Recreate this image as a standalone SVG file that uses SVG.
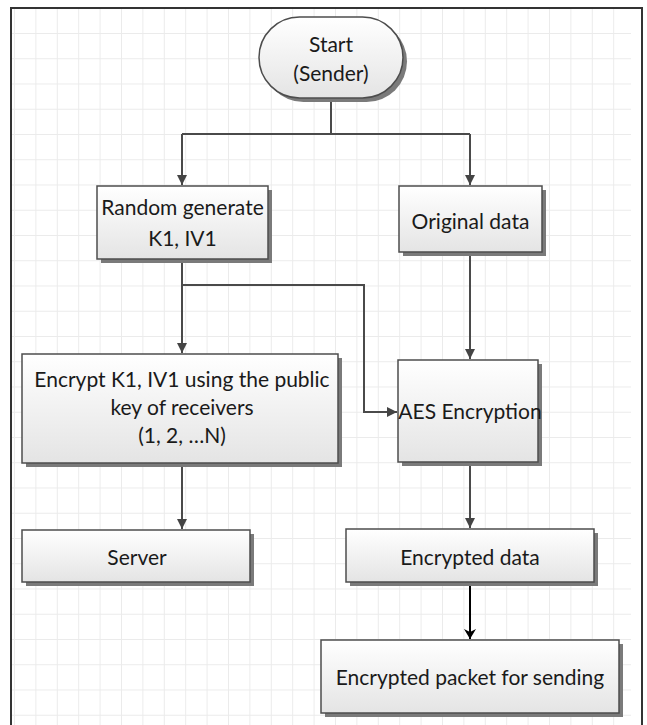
<svg xmlns="http://www.w3.org/2000/svg" width="647" height="725" viewBox="0 0 647 725">
  <defs>
    <linearGradient id="boxFill" x1="0" y1="0" x2="0" y2="1">
      <stop offset="0" stop-color="#ffffff"/>
      <stop offset="1" stop-color="#e4e4e4"/>
    </linearGradient>
    <pattern id="gridCell" x="14" y="7.75" width="21.4" height="25.25" patternUnits="userSpaceOnUse">
      <path d="M0 0V25.25M0 0H21.4" fill="none" stroke="#ebebeb" stroke-width="2"/>
    </pattern>
    <marker id="arrowGray" viewBox="0 0 10 10" refX="10" refY="5" markerWidth="10" markerHeight="10" markerUnits="userSpaceOnUse" orient="auto">
      <path d="M0 0L10 5L0 10Z" fill="#444444"/>
    </marker>
    <marker id="arrowBlack" viewBox="0 0 10 12" refX="10" refY="6" markerWidth="12" markerHeight="12" markerUnits="userSpaceOnUse" orient="auto">
      <path d="M0 0L10 6L0 12L3 6Z" fill="#000000"/>
    </marker>
  </defs>
  <style>
    .box { fill: url(#boxFill); stroke: #4d4d4d; stroke-width: 1.5; }
    .shadow { fill: #7a7a7a; }
    .label { font-family: "Lato", "Liberation Sans", sans-serif; font-size: 21px; fill: #1a1a1a; text-anchor: middle; }
    .wire { fill: none; stroke: #4a4a4a; stroke-width: 2; }
    .wire-dark { fill: none; stroke: #000000; stroke-width: 2; }
  </style>

  <!-- page background and drawing grid -->
  <rect x="0" y="0" width="647" height="725" fill="#ffffff"/>
  <rect x="12" y="9" width="619" height="716" fill="url(#gridCell)"/>
  <path d="M11 725V8H642V725" fill="none" stroke="#333333" stroke-width="2"/>

  <!-- connectors -->
  <g id="connectors">
    <path class="wire" d="M331 98V134"/>
    <path class="wire" d="M182 134H470"/>
    <path class="wire" d="M182 134V185" marker-end="url(#arrowGray)"/>
    <path class="wire" d="M470 134V185" marker-end="url(#arrowGray)"/>
    <path class="wire" d="M182 259V353" marker-end="url(#arrowGray)"/>
    <path class="wire" d="M182 285H364V412H397" marker-end="url(#arrowGray)"/>
    <path class="wire" d="M470 252V359" marker-end="url(#arrowGray)"/>
    <path class="wire" d="M182 463V529" marker-end="url(#arrowGray)"/>
    <path class="wire" d="M470 462V528" marker-end="url(#arrowGray)"/>
    <path class="wire-dark" d="M470 582V639" marker-end="url(#arrowBlack)"/>
  </g>

  <g id="start">
    <rect class="shadow" x="263" y="21" width="144" height="81" rx="40.5"/>
    <rect class="box" x="259" y="17" width="144" height="81" rx="40.5"/>
    <text class="label" x="331" y="52">Start</text>
    <text class="label" x="331" y="81">(Sender)</text>
  </g>

  <g id="random-generate">
    <rect class="shadow" x="101" y="190" width="171" height="73"/>
    <rect class="box" x="97" y="186" width="171" height="73"/>
    <text class="label" x="182.5" y="215">Random generate</text>
    <text class="label" x="182.5" y="246">K1, IV1</text>
  </g>

  <g id="original-data">
    <rect class="shadow" x="403" y="190" width="143" height="66"/>
    <rect class="box" x="399" y="186" width="143" height="66"/>
    <text class="label" x="470.5" y="229">Original data</text>
  </g>

  <g id="encrypt-keys">
    <rect class="shadow" x="26" y="358" width="316" height="109"/>
    <rect class="box" x="22" y="354" width="316" height="109"/>
    <text class="label" x="182" y="387">Encrypt K1, IV1 using the public</text>
    <text class="label" x="182" y="415">key of receivers</text>
    <text class="label" x="182" y="443">(1, 2, …N)</text>
  </g>

  <g id="aes-encryption">
    <rect class="shadow" x="402" y="364" width="140" height="102"/>
    <rect class="box" x="398" y="360" width="140" height="102"/>
    <text class="label" x="470" y="419">AES Encryption</text>
  </g>

  <g id="server">
    <rect class="shadow" x="26" y="534" width="228" height="52"/>
    <rect class="box" x="22" y="530" width="228" height="52"/>
    <text class="label" x="137" y="565">Server</text>
  </g>

  <g id="encrypted-data">
    <rect class="shadow" x="350" y="533" width="248" height="53"/>
    <rect class="box" x="346" y="529" width="248" height="53"/>
    <text class="label" x="470" y="565">Encrypted data</text>
  </g>

  <g id="encrypted-packet">
    <rect class="shadow" x="325" y="644" width="298" height="73"/>
    <rect class="box" x="321" y="640" width="298" height="73"/>
    <text class="label" x="470" y="685">Encrypted packet for sending</text>
  </g>
</svg>
